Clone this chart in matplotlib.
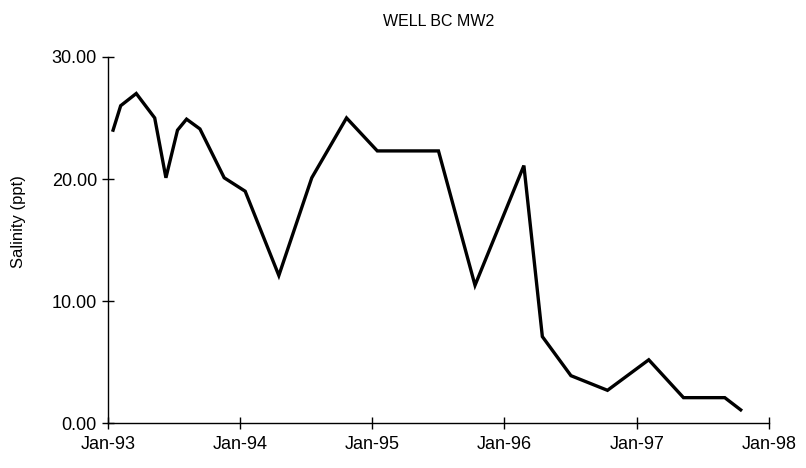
import matplotlib
matplotlib.use("Agg")
import matplotlib.pyplot as plt
import pandas as pd

plt.rcParams['font.family'] = ['Liberation Sans', 'DejaVu Sans']

dates = ["1993-01-15", "1993-02-05", "1993-03-20", "1993-05-10", "1993-06-10",
         "1993-07-12", "1993-08-06", "1993-09-12", "1993-11-18", "1994-01-15",
         "1994-04-18", "1994-07-18", "1994-10-22", "1995-01-15", "1995-07-03",
         "1995-10-12", "1996-02-24", "1996-04-15", "1996-07-03", "1996-10-12",
         "1997-02-03", "1997-05-10", "1997-09-01", "1997-10-15"]
salinity = [24.0, 26.0, 27.0, 25.0, 20.1, 24.0, 24.9, 24.1, 20.1, 19.0,
            12.1, 20.1, 25.0, 22.3, 22.3, 11.3, 21.1, 7.1, 3.9, 2.7,
            5.2, 2.1, 2.1, 1.1]
tick_dates = ["1993-01-01", "1994-01-01", "1995-01-01", "1996-01-01",
              "1997-01-01", "1998-01-01"]
tick_labels = ["Jan-93", "Jan-94", "Jan-95", "Jan-96", "Jan-97", "Jan-98"]
yticks = [0, 10, 20, 30]

x = pd.to_datetime(dates)
xt = pd.to_datetime(tick_dates)

fig = plt.figure(figsize=(8.06, 4.68), dpi=100)
ax = fig.add_axes([0.134, 0.0955, 0.820, 0.783])
ax.plot(x, salinity, color='black', lw=2.4, solid_joinstyle='miter')

ax.set_xlim(xt[0], xt[-1])
ax.set_ylim(0, 30)
ax.set_xticks(xt)
ax.set_xticklabels(tick_labels)
ax.set_yticks(yticks)
ax.set_yticklabels([f"{v:.2f}" for v in yticks])

for s in ['top', 'right']:
    ax.spines[s].set_visible(False)
for s in ['left', 'bottom']:
    ax.spines[s].set_linewidth(1.0)

ax.tick_params(axis='both', direction='inout', length=8, width=1.0,
               labelsize=13, colors='black')
ax.tick_params(axis='x', pad=5)
ax.tick_params(axis='y', pad=4)

ax.set_ylabel("Salinity (ppt)", fontsize=12)
ax.yaxis.set_label_coords(-0.124, 0.55)
ax.set_title("WELL BC MW2", fontsize=11.5, pad=22)

fig.savefig("out.png", dpi=100)
